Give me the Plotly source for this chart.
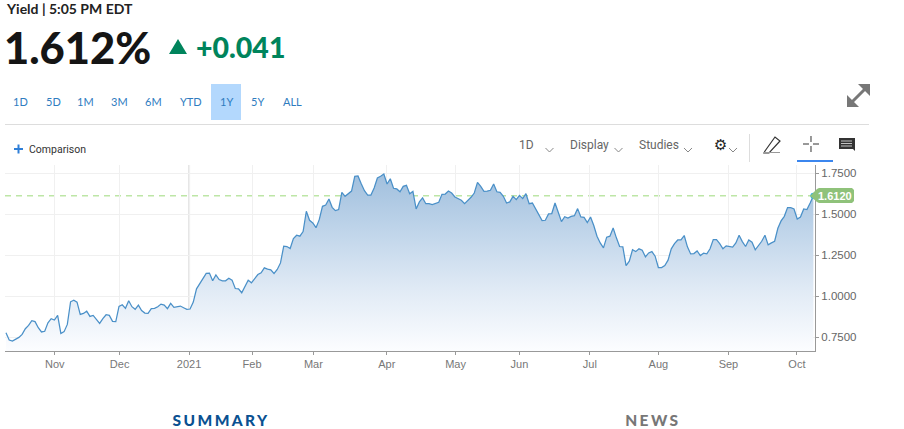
import plotly.graph_objects as go

W, H = 904, 429
L, R, T, B = 5, 815, 165, 351

yield_values = [
0.776,0.732,0.726,0.736,0.748,0.766,0.801,0.821,0.850,0.844,0.807,0.781,0.785,0.837,0.862,0.854,0.882,0.772,0.783,0.827,
0.965,0.975,0.963,0.888,0.894,0.908,0.876,0.882,0.858,0.833,0.862,0.886,0.882,0.846,0.844,0.937,0.947,0.925,0.971,0.935,
0.919,0.945,0.912,0.896,0.894,0.923,0.925,0.935,0.951,0.945,0.923,0.955,0.931,0.937,0.939,0.929,0.919,0.921,0.963,1.044,
1.077,1.111,1.138,1.140,1.093,1.129,1.101,1.093,1.093,1.109,1.097,1.046,1.044,1.020,1.061,1.097,1.081,1.105,1.131,1.142,
1.172,1.164,1.160,1.138,1.162,1.202,1.304,1.302,1.290,1.350,1.371,1.365,
1.393,1.517,1.462,1.446,1.417,1.466,1.547,1.555,1.592,1.541,1.521,1.527,1.632,1.608,1.622,1.640,1.730,1.732,1.685,1.642,
1.616,1.616,1.659,1.720,1.730,1.744,1.683,1.715,1.657,1.653,1.636,1.669,1.675,1.624,1.638,1.531,1.574,1.598,1.563,1.563,
1.557,1.567,1.572,1.620,1.622,1.640,1.628,1.604,1.592,1.584,1.563,1.580,1.602,1.628,1.693,1.669,1.638,1.640,1.645,1.683,
1.636,1.632,1.608,1.567,1.574,1.608,1.588,1.614,1.594,1.624,1.563,1.567,1.531,1.494,1.460,1.462,1.501,1.503,1.567,1.511,
1.454,1.484,1.476,1.486,1.490,1.533,1.482,
1.480,1.448,1.482,1.430,1.365,1.324,1.294,1.359,1.365,1.415,1.355,1.302,1.300,1.186,1.213,1.282,1.271,1.288,1.280,1.239,
1.263,1.271,1.243,1.174,1.174,1.186,1.219,1.288,1.320,1.342,1.342,1.369,1.300,1.257,1.259,1.275,1.247,1.261,1.257,1.288,
1.344,1.344,1.320,1.288,1.306,1.304,1.298,1.324,1.371,1.332,1.302,1.342,1.328,1.282,1.308,1.334,1.371,1.312,1.324,1.334,
1.413,1.458,1.486,1.539,1.539,1.531,1.470,1.482,1.531,1.527,1.567,1.612,
]
month_labels = ["Nov", "Dec", "2021", "Feb", "Mar", "Apr", "May", "Jun", "Jul", "Aug", "Sep", "Oct"]
month_session = [15.1, 35.2, 56.7, 76.2, 95.2, 117.9, 139.2, 159.0, 180.8, 202.0, 223.7, 244.9]
y_ticks = [0.75, 1.0, 1.25, 1.5, 1.75]
last_value = 1.612
range_buttons = ["1D", "5D", "1M", "3M", "6M", "YTD", "1Y", "5Y", "ALL"]

HEAD = "Lato, 'Open Sans', sans-serif"
BODY = "'Liberation Sans', Arial, sans-serif"
GRID = "#f0f0f0"


def px(x):
    return (x - L) / (R - L)


def py(y):
    return (B - y) / (B - T)


def poly(points, fill=None, line=None, width=1, close=True):
    d = "M " + " L ".join(f"{px(a):.5f},{py(b):.5f}" for a, b in points) + (" Z" if close else "")
    return dict(type="path", xref="paper", yref="paper", path=d, fillcolor=fill if fill else "rgba(0,0,0,0)",
                line=dict(color=line if line else "rgba(0,0,0,0)", width=width), layer="above")


def label(text, x, y, size, color, font=BODY, weight=400, anchor="left"):
    return dict(text=text, x=px(x), y=py(y), xref="paper", yref="paper",
                xanchor=anchor, yanchor="middle", showarrow=False, borderpad=0,
                font=dict(size=size, color=color, family=font, weight=weight))


n = len(yield_values)
sessions = list(range(n))
fig = go.Figure()
fig.add_trace(go.Scatter(
    x=sessions, y=yield_values, mode="lines", line=dict(color="#4a90c8", width=1.25),
    fill="tozeroy",
    fillgradient=dict(type="vertical", start=0.665, stop=1.75,
                      colorscale=[[0, "#fcfdff"], [0.35, "#e0eaf5"], [0.7, "#bdd3e9"], [1, "#a0bfdd"]]),
    hoverinfo="skip", showlegend=False))
fig.add_trace(go.Scatter(x=[sessions[-1]], y=[last_value], mode="markers", cliponaxis=False,
                         marker=dict(color="#22aef0", size=6), hoverinfo="skip", showlegend=False))

shapes = []
shapes.append(dict(type="line", xref="paper", x0=0, x1=1, yref="y", y0=last_value, y1=last_value, layer="below",
                   line=dict(color="#bde6a6", width=1.5, dash="6px,5px")))
shapes.append(dict(type="line", xref="x", x0=month_session[2], x1=month_session[2], yref="paper", y0=0, y1=1,
                   layer="below", line=dict(color="#e4e4e4", width=2)))
shapes.append(poly([(5, 124.5), (869, 124.5)], line="#dddddd", close=False))
shapes.append(poly([(749.5, 134), (749.5, 162)], line="#dddddd", close=False))
shapes.append(poly([(797, 161), (833, 161)], line="#3b86ee", width=2, close=False))
shapes.append(poly([(211, 84), (241, 84), (241, 120), (211, 120)], fill="#b3d8fd"))
shapes.append(poly([(169, 54), (178, 39), (187, 54)], fill="#00845c"))
shapes.append(poly([(810, 196), (817, 189), (819, 188), (852, 188), (854, 190), (854, 201), (852, 203), (819, 203),
                    (817, 202)], fill="#8fc27a"))
shapes.append(poly([(14, 149), (23, 149)], line="#2f7fd8", width=2, close=False))
shapes.append(poly([(18.5, 144.5), (18.5, 153.5)], line="#2f7fd8", width=2, close=False))
for cx in [549.5, 618.5, 688, 733]:
    shapes.append(poly([(cx - 4, 148), (cx, 152), (cx + 4, 148)], line="#888888", close=False))
shapes.append(poly([(765, 151), (775, 137), (780, 141), (769, 153), (764, 153)], line="#333333", width=1.2))
shapes.append(poly([(764, 152.5), (780, 152.5)], line="#999999", close=False))
for seg in [[(803, 144), (809, 144)], [(813, 144), (819, 144)], [(811, 136), (811, 142)], [(811, 146), (811, 152)]]:
    shapes.append(poly(seg, line="#333333", close=False))
shapes.append(poly([(839, 138), (855, 138), (855, 151), (853, 149), (839, 149)], fill="#333333"))
for yy in [141, 143.5, 146]:
    shapes.append(poly([(841, yy), (852, yy)], line="#ffffff", width=0.7, close=False))
shapes.append(poly([(851, 103), (866, 88)], line="#777777", width=3, close=False))
shapes.append(poly([(858, 84), (870, 84), (870, 96)], fill="#777777"))
shapes.append(poly([(847, 95), (847, 107), (859, 107)], fill="#777777"))

ann = [
    label("Yield | 5:05 PM EDT", 4.5, 8, 14, "#222222", HEAD, 700),
    label("1.612%", 3, 47, 43.5, "#151515", HEAD, 900),
    label("+0.041", 195, 47.5, 28.5, "#00845c", HEAD, 900),
    label("Comparison", 28, 149.5, 10.5, "#333333", "Roboto, sans-serif"),
    label("1D", 518, 145, 12, "#666666", "Roboto, sans-serif"),
    label("Display", 569, 145, 12, "#666666", "Roboto, sans-serif"),
    label("Studies", 638, 145, 12, "#666666", "Roboto, sans-serif"),
    label("⚙", 713, 145, 15, "#222222", "DejaVu Sans"),
    label(f"{last_value:.4f}", 817, 196, 11, "#ffffff", BODY, 700),
    label("SUMMARY", 180, 420, 15.5, "#0a5191", HEAD, 900),
    label("NEWS", 629, 420, 15.5, "#777777", HEAD, 900),
]
for text, cx in zip(range_buttons, [20, 53, 85, 119, 153, 191, 226, 257, 292]):
    ann.append(label(text, cx, 101.5, 11, "#2f7cbf", HEAD, 400, anchor="center"))

fig.update_layout(
    width=W, height=H, margin=dict(l=L, r=W - R, t=T, b=H - B, pad=0),
    paper_bgcolor="white", plot_bgcolor="white", hovermode=False, showlegend=False,
    shapes=shapes, annotations=ann,
    xaxis=dict(range=[-0.3, n - 0.5], tickmode="array", tickvals=month_session, ticktext=month_labels,
               showgrid=True, gridcolor=GRID, gridwidth=1, zeroline=False, showline=True, linecolor="#999999",
               linewidth=1, ticks="outside", ticklen=3, tickcolor="#999999",
               tickfont=dict(size=11, color="#777777", family=BODY)),
    yaxis=dict(range=[0.665, 1.799], side="right", tickmode="array", tickvals=y_ticks, tickformat=".4f",
               showgrid=True, gridcolor=GRID, gridwidth=1, zeroline=False, showline=True, linecolor="#999999",
               linewidth=1, ticks="outside", ticklen=3, tickcolor="#999999",
               tickfont=dict(size=11.5, color="#666666", family=BODY)),
)

post = """
document.body.style.margin='0';
document.querySelectorAll('.annotation-text').forEach(function(t){
  if(t.textContent==='SUMMARY'||t.textContent==='NEWS'){t.style.letterSpacing='2.4px';}
});
"""
fig.write_html("out.html", config={"displayModeBar": False, "staticPlot": True}, post_script=post)
